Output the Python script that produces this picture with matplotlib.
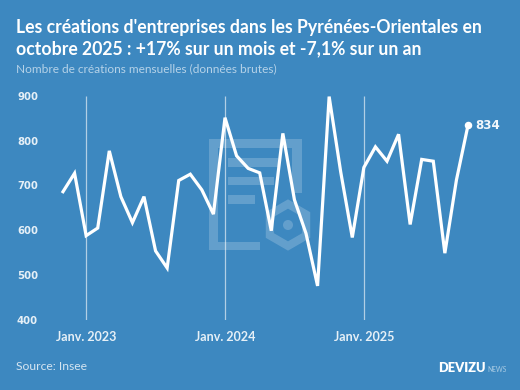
import matplotlib
matplotlib.use("Agg")
import numpy as np
import matplotlib.pyplot as plt
from matplotlib.patches import Rectangle, Polygon, Ellipse

BG = "#3d88c0"
W, H = 520, 390

months = list(range(-2, 34))
values = [686, 727, 588, 605, 777, 675, 617, 675, 554, 516, 711, 725,
          690, 636, 851, 766, 738, 728, 599, 816, 668, 593, 476, 898,
          730, 584, 740, 786, 754, 814, 613, 758, 754, 549, 712, 834]
y_ticks = [400, 500, 600, 700, 800, 900]
jan_pos = [0, 12, 24]
jan_labels = ["Janv. 2023", "Janv. 2024", "Janv. 2025"]

plt.rcParams['font.family'] = ['Lato', 'DejaVu Sans']

fig = plt.figure(figsize=(W / 100, H / 100), dpi=100, facecolor=BG)


def fx(px):
    return px / W


def fy(py):
    return 1 - py / H


# filigrane derriere la courbe
wm = dict(facecolor="white", alpha=0.2, edgecolor="none", transform=fig.transFigure)
for x0, y0, x1, y1 in [(209, 139, 302, 148), (209, 148, 218, 250), (218, 242, 260, 250),
                       (292, 148, 302, 193), (228, 158, 278, 167), (228, 177, 274, 185),
                       (228, 195, 255, 204)]:
    fig.add_artist(Rectangle((fx(x0), fy(y1)), fx(x1 - x0), fy(y0) - fy(y1), **wm))
ang = np.deg2rad(np.arange(90, 450, 60))
cx, cy = 288, 225
hexa = np.c_[fx(cx + 21 * np.cos(ang)), fy(cy - 21 * np.sin(ang))]
fig.add_artist(Polygon(hexa, closed=True, fill=False, edgecolor="white", alpha=0.2,
                       linewidth=5.8, joinstyle="miter", transform=fig.transFigure))
fig.add_artist(Ellipse((fx(cx), fy(cy)), fx(10), 10 / H, **wm))

ax = fig.add_axes([fx(63), fy(320), fx(468 - 63), fy(95.7) - fy(320)])
ax.patch.set_alpha(0)
ax.set_xlim(-2, 33)
ax.set_ylim(400, 900)
for s in ax.spines.values():
    s.set_visible(False)

ax.vlines(jan_pos, 400, 900, color="white", alpha=0.6, linewidth=0.9, zorder=1)
ax.plot(months, values, color="white", linewidth=2.3, solid_joinstyle="miter",
        clip_on=False, zorder=3)
ax.plot(months[-1], values[-1], "o", color="white", markersize=4.4, clip_on=False, zorder=4)
ax.annotate(str(values[-1]), (months[-1], values[-1]), xytext=(5, 0), textcoords="offset points",
            color="#f2f7fb", fontsize=8.6, fontweight="bold", family="DejaVu Sans", va="center")

ax.set_yticks(y_ticks)
ax.set_xticks(jan_pos)
ax.set_xticklabels(jan_labels)
ax.tick_params(length=0)
ax.tick_params(axis="y", pad=18, labelcolor="#e6f0f7", labelsize=7.3)
for lab in ax.get_yticklabels():
    lab.set_fontweight("bold")
    lab.set_family("DejaVu Sans")
ax.tick_params(axis="x", pad=8, labelcolor="#e6f0f7", labelsize=9)
for lab in ax.get_xticklabels():
    lab.set_fontweight("bold")

fig.text(fx(16), fy(32.5), "Les créations d'entreprises dans les Pyrénées-Orientales en",
         color="white", fontsize=12.7, fontweight="bold", va="baseline")
fig.text(fx(16), fy(54.5), "octobre 2025 : +17% sur un mois et -7,1% sur un an",
         color="white", fontsize=12.7, fontweight="bold", va="baseline")
fig.text(fx(16), fy(72), "Nombre de créations mensuelles (données brutes)",
         color="#b5d2e8", fontsize=8.6, va="baseline")
fig.text(fx(16), fy(370), "Source: Insee", color="#d5e5f1", fontsize=8.7, va="baseline")
fig.text(fx(438), fy(372), "DEVIZU", color="white", fontsize=9.3, fontweight="heavy", va="baseline")
fig.text(fx(487), fy(372), "NEWS", color="#a9cbe3", fontsize=4.8, va="baseline")

fig.savefig("out.png", dpi=100, facecolor=BG)
